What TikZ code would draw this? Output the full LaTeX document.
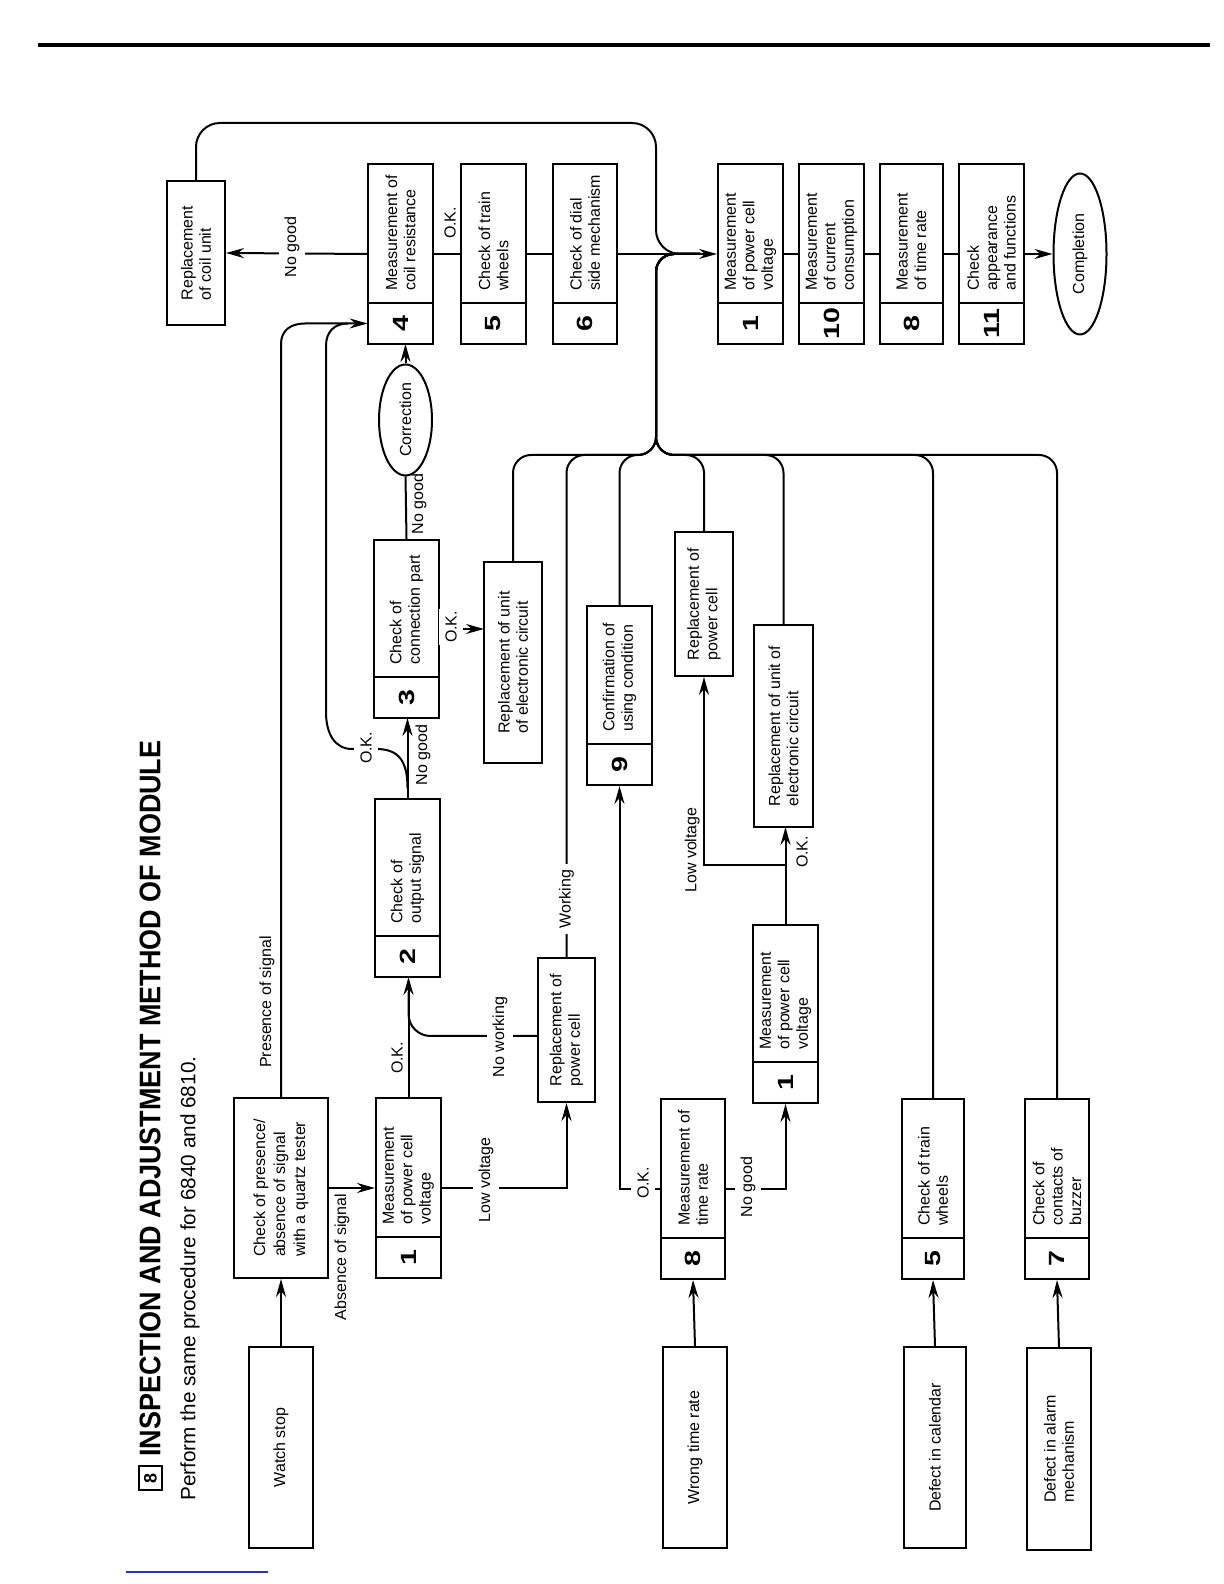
\documentclass[tikz,border=0pt]{standalone}
\usepackage{fontspec}
\setmainfont{Liberation Sans}
\usepackage{graphicx}
\usetikzlibrary{arrows.meta,shapes.geometric}
\definecolor{linkblue}{RGB}{40,50,190}
\tikzset{
  bx/.style={draw, line width=1pt, inner sep=0pt},
  plainbox/.style={bx, align=left, font=\fontsize{8}{9.2}\selectfont},
  numcell/.style={inner sep=0pt, minimum width=20.5pt, font=\fontsize{11}{11}\selectfont\bfseries},
  celltext/.style={inner sep=0pt, align=left, anchor=west, font=\fontsize{8}{9.2}\selectfont},
  boxline/.style={line width=1pt},
  conn/.style={line width=1pt},
  arr/.style={conn, -{Stealth[length=9pt,width=5pt,inset=3pt]}},
  lbl/.style={inner sep=0.5pt, font=\fontsize{8}{9}\selectfont},
  lblw/.style={lbl, fill=white, inner xsep=1pt, inner ysep=3pt},
  oval/.style={ellipse, draw, line width=1pt, inner sep=0pt, font=\fontsize{8}{9.2}\selectfont},
}
\newcommand\mynumbox[7]{%
  \pgfmathsetmacro\nbW{(#3-#2)/2}%
  \pgfmathsetmacro\nbH{(#5-#4)/2}%
  \pgfmathsetmacro\nbCX{(#2+#3)/2}%
  \pgfmathsetmacro\nbCY{-(#4+#5)/2}%
  \pgfmathsetmacro\nbNX{#2+20.5}%
  \pgfmathsetmacro\nbTX{#2+53}%
  \node[bx, minimum width=\nbW pt, minimum height=\nbH pt] (#1) at (\nbCX,\nbCY) {};%
  \node[numcell, minimum height=\nbH pt] (#1n) at (\nbNX,\nbCY) {\scalebox{1.3}[1]{#6}};%
  \draw[boxline] (#1n.north east) -- (#1n.south east);%
  \node[celltext] (#1t) at (\nbTX,\nbCY) {#7};%
}
\newcommand\myplainbox[7][]{%
  \pgfmathsetmacro\nbW{(#4-#3)/2}%
  \pgfmathsetmacro\nbH{(#6-#5)/2}%
  \pgfmathsetmacro\nbCX{(#3+#4)/2}%
  \pgfmathsetmacro\nbCY{-(#5+#6)/2}%
  \node[plainbox, #1, minimum width=\nbW pt, minimum height=\nbH pt] (#2) at (\nbCX,\nbCY) {#7};%
}
\begin{document}
\begin{tikzpicture}[x=0.5pt,y=0.5pt]
\useasboundingbox (0,0) rectangle (1224,1584);
\fill[white] (0,0) rectangle (1224,1584);
\begin{scope}[rotate=90, transform shape]
% page rules
\draw[line width=2pt] (1539,-38) -- (1539,-1210);
\draw[line width=0.8pt, linkblue] (12,-126) -- (12,-268);
% title
\node[draw, line width=0.8pt, minimum width=12pt, minimum height=11.5pt, inner sep=0pt, font=\bfseries\fontsize{9}{9}\selectfont] (t8) at (106,-150.5) {8};
\node[anchor=west, inner sep=0pt] (title) at (127,-150) {\resizebox{358pt}{10.4pt}{\bfseries INSPECTION AND ADJUSTMENT METHOD OF MODULE}};
\node[anchor=west, inner sep=0pt] (sub) at (83,-190) {\resizebox{222pt}{!}{\fontsize{10}{12}\selectfont Perform the same procedure for 6840 and 6810.}};

% boxes
\myplainbox{ws}{36}{237}{249}{313}{Watch stop}
\myplainbox[font=\fontsize{8}{10}\selectfont]{ck}{306}{486}{234}{328}{Check of presence/\\absence of signal\\with a quartz tester}
\mynumbox{bA}{306}{486}{376}{441}{1}{Measurement\\of power cell\\voltage}
\mynumbox{bB}{607}{785}{375}{440}{2}{Check of\\output signal}
\mynumbox{bC}{866}{1044}{374}{439}{3}{Check of\\connection part}
\node[oval, minimum width=55.5pt, minimum height=26.5pt] (cor) at (1164,-405.5) {Correction};
\mynumbox{bD}{1240}{1420}{368}{433}{4}{Measurement of\\coil resistance}
\myplainbox{cu}{1259}{1403}{167}{225}{Replacement\\of coil unit}
\mynumbox{bE}{1240}{1420}{461}{526}{5}{Check of train\\wheels}
\mynumbox{bF}{1240}{1420}{553}{617}{6}{Check of dial\\side mechanism}
\mynumbox{bG}{1240}{1420}{718}{783}{1}{Measurement\\of power cell\\voltage}
\mynumbox{bH}{1240}{1420}{799}{864}{10}{Measurement\\of current\\consumption}
\mynumbox{bI}{1240}{1420}{880}{943}{8}{Measurement\\of time rate}
\mynumbox{bJ}{1240}{1420}{959}{1024}{11}{Check\\appearance\\and functions}
\node[oval, minimum width=80.5pt, minimum height=26.5pt] (comp) at (1330,-1080) {Completion};
\myplainbox{rB}{821}{1022}{484}{542}{Replacement of unit\\of electronic circuit}
\myplainbox{rA}{482}{626}{538}{595}{Replacement of\\power cell}
\mynumbox{bK}{799}{978}{587}{652}{9}{Confirmation of\\using condition}
\myplainbox{rC}{908}{1052}{675}{733}{Replacement of\\power cell}
\myplainbox{rD}{757}{959}{754}{813}{Replacement of unit of\\electronic circuit}
\mynumbox{bL}{305}{485}{661}{725}{8}{Measurement of\\time rate}
\mynumbox{bM}{481}{659}{753}{818}{1}{Measurement\\of power cell\\voltage}
\myplainbox{wtr}{36}{237}{663}{727}{Wrong time rate}
\mynumbox{bN}{305}{485}{902}{964}{5}{Check of train\\wheels}
\myplainbox{dc}{36}{237}{904}{966}{Defect in calendar}
\mynumbox{bO}{305}{485}{1025}{1089}{7}{Check of\\contacts of\\buzzer}
\myplainbox{da}{34}{236}{1027}{1091}{Defect in alarm\\mechanism}

% --- connectors: watch stop chain
\draw[arr] (ws.east) -- (ck.west);
\draw[arr] (ck.south) -- (bA.north);
\node[lbl] at (327,-342) {Absence of signal};
\draw[arr] (ck.east) -- (1240,-281) .. controls (1253,-281) and (1260.5,-290) .. (1260.5,-305) -- (bDn.north);
\node[lbl] at (582,-267) {Presence of signal};
\draw[arr] (bA.east) -- (607,-408.5);
\node[lbl] at (526,-397) {O.K.};
\draw[conn, rounded corners=11pt] (548,-538) -- (548,-408.5) -- (592,-408.5);
\node[lblw] at (547,-500) {No working};
\draw[arr] (bA.south) -- (396,-566.5) -- (rA.west);
\node[lblw] at (404,-486) {Low voltage};
\draw[arr] (bB.east) -- (866,-407.5);
\node[lbl] at (829,-423) {No good};
\draw[conn] (796,-407.5) .. controls (824,-407.5) and (835,-398) .. (835,-376) -- (835,-352) .. controls (835,-335) and (850,-326) .. (872,-326) -- (1238,-326) .. controls (1252,-326) and (1260.5,-334) .. (1260.5,-348);
\node[lblw] at (836,-366) {O.K.};
\draw[conn] (bC.east) -- (cor.west);
\node[lbl] at (1080,-419) {No good};
\draw[arr] (cor.east) -- (1240,-405.5);
\draw[arr] (bC.south) -- (955,-484);
\node[lblw] at (957,-451) {O.K.};
% main line
\draw[arr] (bD.north) -- (cu.south);
\node[lblw] at (1337,-292) {No good};
\draw[conn] (bD.south) -- (bE.north);
\node[lbl] at (1361,-450) {O.K.};
\draw[conn] (bE.south) -- (bF.north);
\draw[arr] (bF.south) -- (bG.north);
\draw[conn] (bG.south) -- (bH.north);
\draw[conn] (bH.south) -- (bI.north);
\draw[conn] (bI.south) -- (bJ.north);
\draw[arr] (bJ.south) -- (comp.north);
% return buses
\draw[conn, rounded corners=12pt] (cu.east) -- (1461,-196) -- (1461,-656) -- (1330,-656) -- (1330,-700);
\draw[conn, rounded corners=9pt] (rB.east) -- (1129,-513) -- (1129,-656) -- (1330,-656) -- (1330,-700);
\draw[conn, rounded corners=9pt] (rA.east) -- (1129,-566.5) -- (1129,-656) -- (1330,-656) -- (1330,-700);
\node[lblw, inner xsep=3pt, inner ysep=0pt] at (685,-566.5) {Working};
\draw[conn, rounded corners=9pt] (bK.east) -- (1129,-619.5) -- (1129,-656) -- (1330,-656) -- (1330,-700);
\draw[conn, rounded corners=9pt] (rC.east) -- (1129,-704) -- (1129,-656) -- (1330,-656) -- (1330,-700);
\draw[conn, rounded corners=9pt] (rD.east) -- (1129,-783.5) -- (1129,-656) -- (1330,-656) -- (1330,-700);
\draw[conn, rounded corners=9pt] (bN.east) -- (1129,-933) -- (1129,-656) -- (1330,-656) -- (1330,-700);
\draw[conn, rounded corners=9pt] (bO.east) -- (1129,-1057) -- (1129,-656) -- (1330,-656) -- (1330,-700);
% wrong time rate chain
\draw[arr] (wtr.east) -- (bL.west);
\draw[arr] (bL.north) -- (395,-619.5) -- (bK.west);
\node[lblw] at (401,-643) {O.K.};
\draw[arr] (bL.south) -- (395,-785.5) -- (bM.west);
\node[lblw] at (397,-748) {No good};
\draw[arr] (bM.east) -- (757,-785.5);
\node[lbl] at (732,-802) {O.K.};
\draw[arr] (719,-785.5) -- (719,-704) -- (rC.west);
\node[lbl, anchor=south] at (734,-701) {Low voltage};
% calendar, alarm
\draw[arr] (dc.east) -- (bN.west);
\draw[arr] (da.east) -- (bO.west);
\end{scope}
\end{tikzpicture}
\end{document}
